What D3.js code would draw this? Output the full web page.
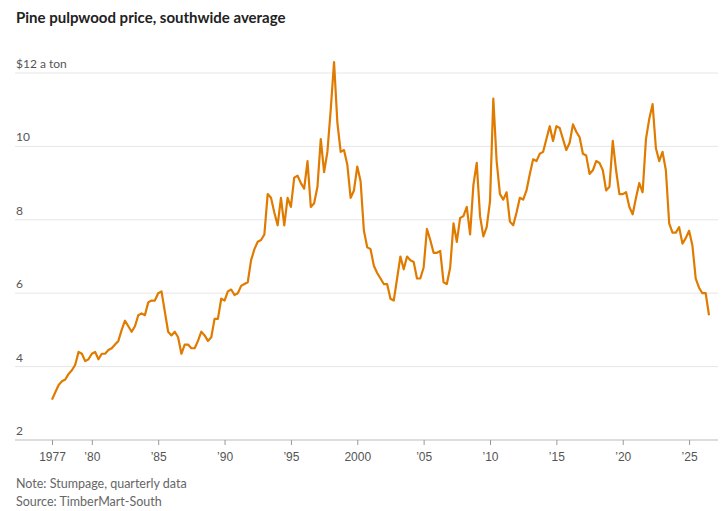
<!DOCTYPE html>
<html>
<head>
<meta charset="utf-8">
<script src="https://cdn.jsdelivr.net/npm/d3@7"></script>
<style>
  body { margin: 0; background: #fff; font-family: "Lato", "Liberation Sans", sans-serif; }
  .title { font-weight: bold; font-size: 15px; fill: #222; }
  .tick text { font-size: 12px; fill: #555; }
  .note { font-size: 12.5px; fill: #666; }
</style>
</head>
<body>
<div id="chart"></div>
<script>
var svgWidth = 727;
var svgHeight = 511;

// quarterly values, starting 1977 Q1
var startYear = 1977;
var prices = [
  3.1, 3.3, 3.5, 3.6,   3.65, 3.8, 3.9, 4.05,   4.4, 4.35, 4.15, 4.2,
  4.35, 4.4, 4.2, 4.35,   4.35, 4.45, 4.5, 4.6,   4.7, 5.0, 5.25, 5.1,
  4.95, 5.1, 5.4, 5.45,   5.4, 5.75, 5.8, 5.8,   6.0, 6.05, 5.5, 4.95,
  4.85, 4.95, 4.8, 4.35,   4.6, 4.6, 4.5, 4.5,   4.7, 4.95, 4.85, 4.7,
  4.8, 5.3, 5.3, 5.85,   5.8, 6.05, 6.1, 5.95,   6.0, 6.2, 6.25, 6.3,
  6.9, 7.2, 7.4, 7.45,   7.6, 8.7, 8.6, 8.2,   7.85, 8.6, 7.85, 8.6,
  8.35, 9.15, 9.2, 9.0,   8.85, 9.6, 8.35, 8.45,   8.9, 10.2, 9.3, 9.85,
  11.0, 12.3, 10.65, 9.85,   9.9, 9.5, 8.6, 8.8,   9.45, 9.05, 7.7, 7.25,
  7.2, 6.75, 6.55, 6.4,   6.25, 6.25, 5.85, 5.8,   6.4, 7.0, 6.65, 7.0,
  6.9, 6.85, 6.4, 6.4,   6.7, 7.75, 7.45, 7.1,   7.1, 7.15, 6.3, 6.25,
  6.7, 7.9, 7.4, 8.05,   8.1, 8.35, 7.6, 8.95,   9.55, 8.1, 7.55, 7.8,
  8.5, 11.3, 9.6, 8.7,   8.55, 8.75, 7.95, 7.85,   8.2, 8.6, 8.55, 8.8,
  9.25, 9.65, 9.6, 9.8,   9.85, 10.2, 10.55, 10.15,   10.55, 10.5, 10.2, 9.9,
  10.1, 10.6, 10.4, 10.25,   9.8, 9.75, 9.25, 9.35,   9.6, 9.55, 9.35, 8.8,
  8.9, 10.15, 9.35, 8.7,   8.7, 8.75, 8.35, 8.15,   8.6, 9.0, 8.75, 10.2,
  10.75, 11.15, 9.95, 9.6,   9.85, 9.35, 7.9, 7.65,   7.65, 7.8, 7.35, 7.5,
  7.7, 7.3, 6.4, 6.15,   6.0, 6.0, 5.4
];
var xTickYears = [1977, 1980, 1985, 1990, 1995, 2000, 2005, 2010, 2015, 2020, 2025];
var xTickLabels = ["1977", "’80", "’85", "’90", "’95", "2000", "’05", "’10", "’15", "’20", "’25"];
var yTicks = [2, 4, 6, 8, 10, 12];

var data = prices.map((v, i) => ({ year: startYear + i / 4, value: v }));
var lastYear = data[data.length - 1].year;

var svg = d3.select("#chart").append("svg")
  .attr("width", svgWidth)
  .attr("height", svgHeight);

svg.append("text").attr("class", "title").attr("x", 16).attr("y", 23)
  .text("Pine pulpwood price, southwide average");

var x = d3.scaleLinear().domain([1977, lastYear]).range([52, 709]);
var y = d3.scaleLinear().domain([2, 12]).range([440, 73]);

// gridlines + labels
var grid = svg.append("g");
grid.selectAll("line").data(yTicks).enter().append("line")
  .attr("x1", 15).attr("x2", 718)
  .attr("y1", d => y(d)).attr("y2", d => y(d))
  .attr("stroke", d => d === 2 ? "#bbb" : "#e6e6e6")
  .attr("stroke-width", 1);
grid.selectAll("text").data(yTicks).enter().append("text")
  .attr("x", 16).attr("y", d => y(d) - 5)
  .style("font-size", "12px").attr("fill", "#555")
  .text(d => d === 12 ? "$12 a ton" : d);

// x axis
var xAxis = d3.axisBottom(x)
  .tickValues(xTickYears)
  .tickFormat((d, i) => xTickLabels[i])
  .tickSize(5);
var xg = svg.append("g").attr("transform", `translate(0, ${y(2)})`).call(xAxis);
xg.select(".domain").remove();
xg.selectAll(".tick line").attr("stroke", "#999");
xg.selectAll(".tick text").attr("dy", "1.1em");

// line
var line = d3.line().x(d => x(d.year)).y(d => y(d.value));
svg.append("path").datum(data)
  .attr("d", line)
  .attr("fill", "none")
  .attr("stroke", "#e07b00")
  .attr("stroke-width", 2.2)
  .attr("stroke-linejoin", "round");

svg.append("text").attr("class", "note").attr("x", 16).attr("y", 488)
  .text("Note: Stumpage, quarterly data");
svg.append("text").attr("class", "note").attr("x", 16).attr("y", 506)
  .text("Source: TimberMart-South");
</script>
</body>
</html>
